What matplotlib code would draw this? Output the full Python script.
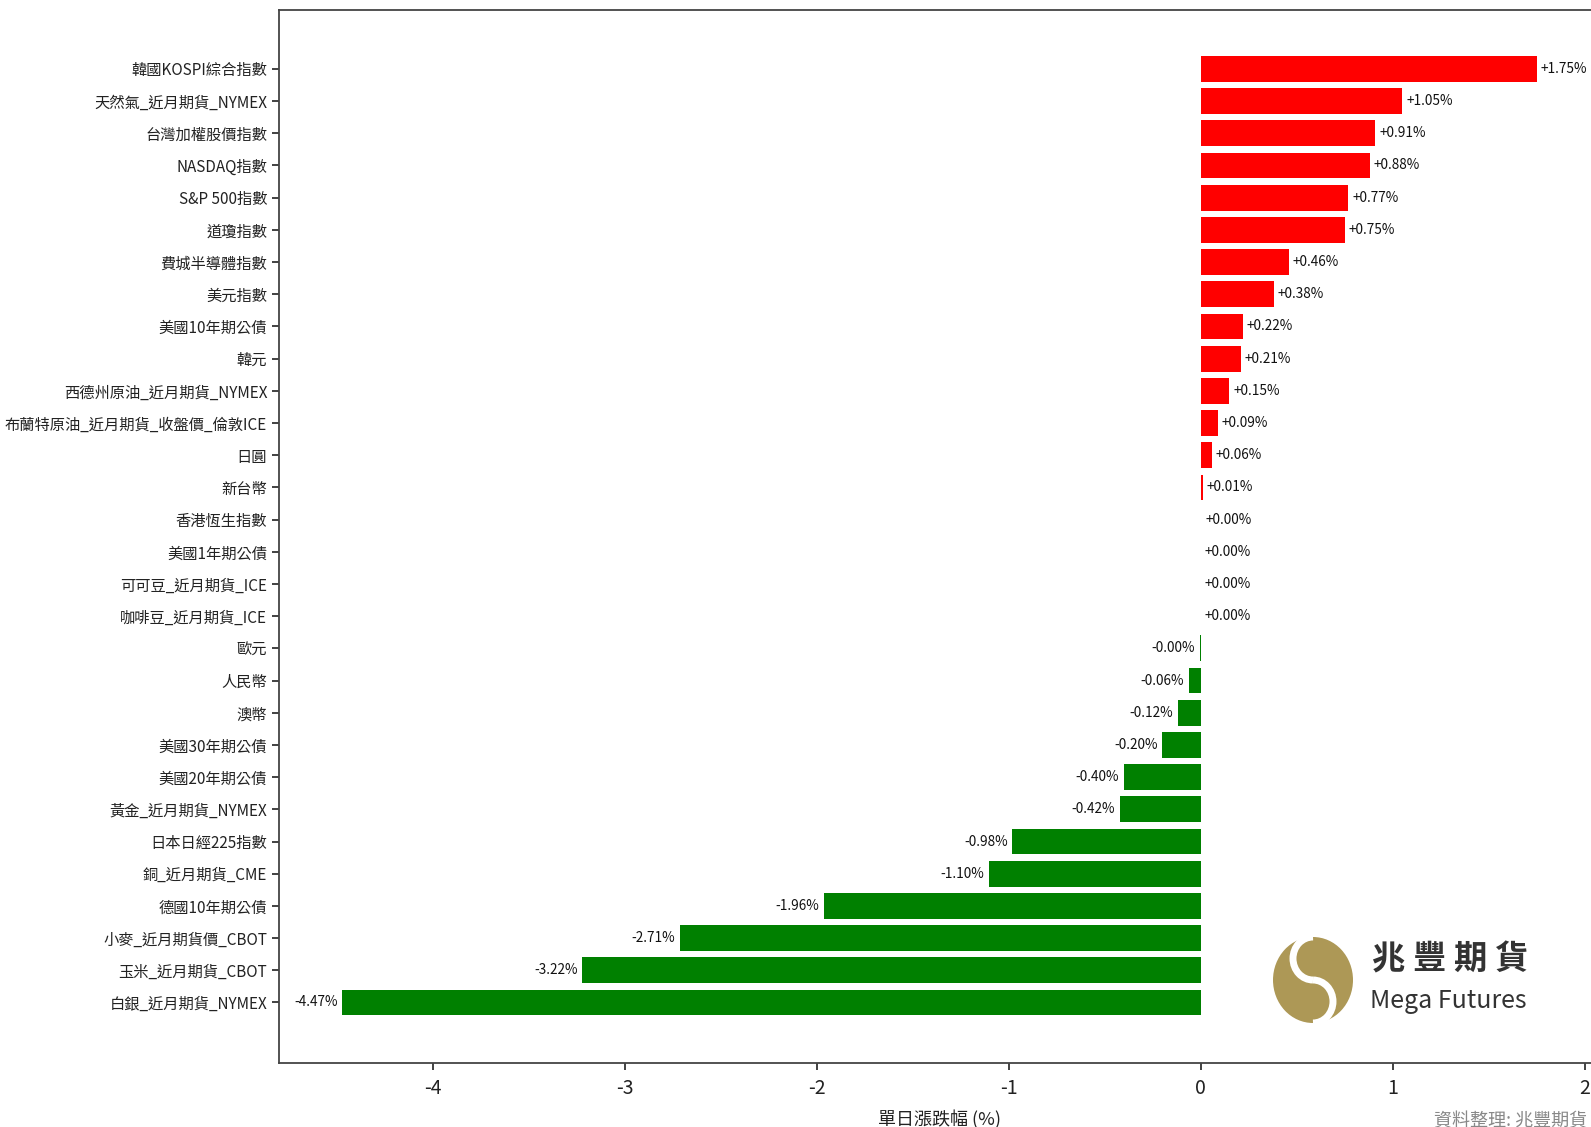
import matplotlib
matplotlib.use("Agg")
import matplotlib.pyplot as plt
from matplotlib.patches import Ellipse, Arc

plt.rcParams['font.family'] = ['Noto Sans CJK TC', 'DejaVu Sans']

categories = [
    "韓國KOSPI綜合指數", "天然氣_近月期貨_NYMEX", "台灣加權股價指數", "NASDAQ指數",
    "S&P 500指數", "道瓊指數", "費城半導體指數", "美元指數", "美國10年期公債", "韓元",
    "西德州原油_近月期貨_NYMEX", "布蘭特原油_近月期貨_收盤價_倫敦ICE", "日圓", "新台幣",
    "香港恆生指數", "美國1年期公債", "可可豆_近月期貨_ICE", "咖啡豆_近月期貨_ICE", "歐元",
    "人民幣", "澳幣", "美國30年期公債", "美國20年期公債", "黃金_近月期貨_NYMEX",
    "日本日經225指數", "銅_近月期貨_CME", "德國10年期公債", "小麥_近月期貨價_CBOT",
    "玉米_近月期貨_CBOT", "白銀_近月期貨_NYMEX",
]
values = [
    1.75, 1.05, 0.91, 0.88, 0.77, 0.75, 0.46, 0.38, 0.22, 0.21,
    0.15, 0.09, 0.06, 0.01, 0.0045, 0.0, 0.0, 0.0, -0.004,
    -0.06, -0.12, -0.20, -0.40, -0.42, -0.98, -1.10, -1.96, -2.71, -3.22, -4.47,
]
xticks = [-4, -3, -2, -1, 0, 1, 2]

W, H = 1591, 1127
fig = plt.figure(figsize=(W / 100, H / 100), dpi=100)
ax = fig.add_axes([279 / W, 1 - 1063 / H, (1600 - 279) / W, (1063 - 10) / H])

n = len(categories)
ypos = list(range(n - 1, -1, -1))
colors = ['#ff0000' if v >= 0 else '#008000' for v in values]
ax.barh(ypos, values, height=0.8, color=colors)

for y, v in zip(ypos, values):
    if v >= 0:
        ax.text(v + 0.02, y, f"+{v:.2f}%", ha='left', va='center', fontsize=9.8, color='#111')
    else:
        ax.text(v - 0.025, y, f"{v:.2f}%", ha='right', va='center', fontsize=9.8, color='#111')

ax.set_yticks(ypos)
ax.set_yticklabels(categories, fontsize=11, color='#222')
ax.set_xticks(xticks)
ax.set_xticklabels([str(t) for t in xticks], fontsize=14, color='#222')
ax.set_xlim(-4.8, 2.08)
ax.set_ylim(-1.88, n - 1 + 1.83)
ax.tick_params(axis='both', direction='out', length=5, width=1.3, color='#333')
ax.tick_params(axis='x', pad=6)
for s in ax.spines.values():
    s.set_color('#444')
    s.set_linewidth(1.3)
ax.set_xlabel("單日漲跌幅 (%)", fontsize=13, color='#222', labelpad=8)

# footer
fig.text(1587 / W, 1 - 1121 / H, "資料整理: 兆豐期貨", ha='right', va='center',
         fontsize=13, color='#888')

# logo (approximation)
cx, cy = 1313 / W, 1 - 980 / H
ew, eh = 80 / W, 86 / H
fig.add_artist(Ellipse((cx, cy), ew, eh, transform=fig.transFigure,
                       facecolor='#ad9856', edgecolor='none'))
fig.add_artist(Arc((cx, cy + eh / 4), ew / 2, eh / 2, theta1=90, theta2=270,
                   transform=fig.transFigure, color='white', lw=5))
fig.add_artist(Arc((cx, cy - eh / 4), ew / 2, eh / 2, theta1=-90, theta2=90,
                   transform=fig.transFigure, color='white', lw=5))
fig.text(1372 / W, 1 - 960 / H, "兆 豐 期 貨", ha='left', va='center',
         fontsize=24, color='#333', fontweight='bold')
fig.text(1370 / W, 1 - 1001 / H, "Mega Futures", ha='left', va='center',
         fontsize=18, color='#333')

fig.savefig("out.png", dpi=100)
